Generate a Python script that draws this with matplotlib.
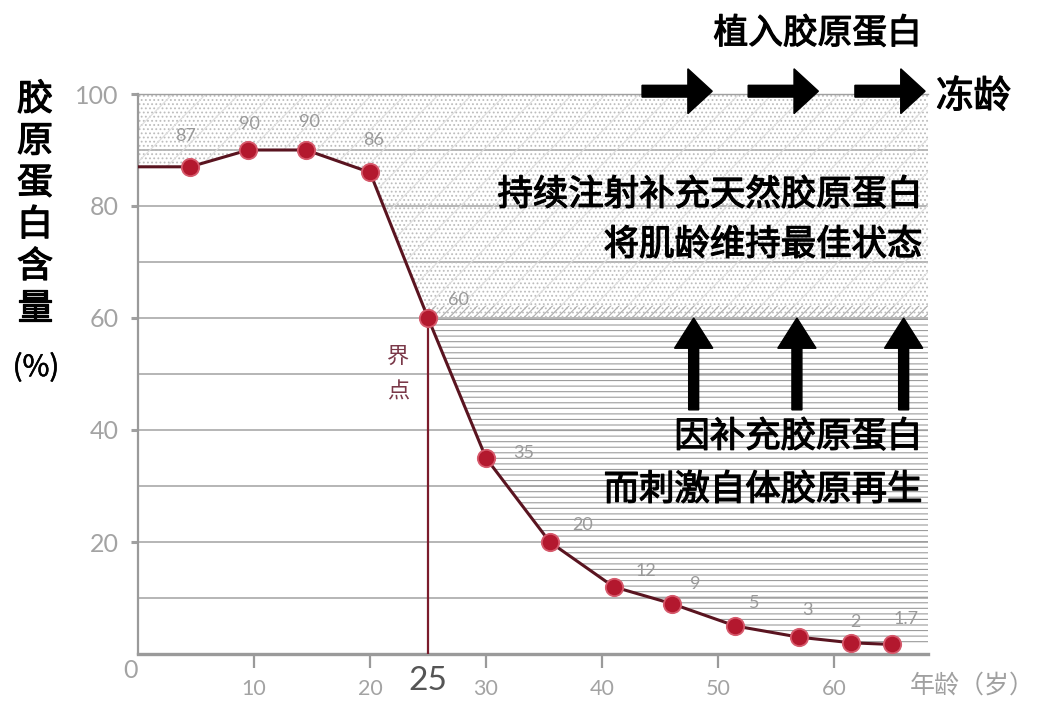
import numpy as np
import matplotlib
matplotlib.use("Agg")
import matplotlib.pyplot as plt
import matplotlib.patheffects as pe
from matplotlib.patches import FancyArrow

plt.rcParams["font.family"] = ["Noto Sans CJK SC", "DejaVu Sans"]
plt.rcParams["hatch.linewidth"] = 0.8

# collagen content (%) by age
ages = [4.5, 9.5, 14.5, 20, 25, 30, 35.5, 41, 46, 51.5, 57, 61.5, 65]
collagen = [87, 90, 90, 86, 60, 35, 20, 12, 9, 5, 3, 2, 1.7]
value_labels = ["87", "90", "90", "86", "60", "35", "20", "12", "9", "5", "3", "2", "1.7"]
start_age = 0
start_level = 87

x_ticks = [10, 20, 30, 40, 50, 60]
y_ticks = [20, 40, 60, 80, 100]
grid_levels = [10, 20, 30, 40, 50, 60, 70, 80, 90]
threshold_age = 25
threshold_level = 60

# arrow positions (age units / percent units)
right_arrow_starts = [43.45, 52.6, 61.8]
up_arrow_ages = [47.9, 56.8, 66.0]

W, H = 1038, 701
fig = plt.figure(figsize=(W / 100, H / 100), dpi=100)
ax = fig.add_axes([138 / W, 1 - 654 / H, 790 / W, 560 / H])
ax.set_xlim(0, 68.1)
ax.set_ylim(0, 100)

curve_x = [start_age] + ages
curve_y = [start_level] + collagen
xx = np.linspace(0, 68.1, 1200)
yy = np.interp(xx, curve_x, curve_y)

# grid lines
for g in grid_levels:
    ax.axhline(g, color="#b0b0b0", lw=1.3, zorder=0.5)

# stippled zone above the curve (maintenance zone)
ax.fill_between(xx, np.maximum(yy, threshold_level), 100, facecolor="none",
                edgecolor="#bdbdbd", hatch="....", linewidth=0, zorder=1)
ax.fill_between(xx, np.maximum(yy, threshold_level), 100, facecolor="none",
                edgecolor="#dedede", hatch="/", linewidth=0, zorder=1)
ax.fill_between(xx, threshold_level, threshold_level + 2.2,
                where=xx >= threshold_age, facecolor="none",
                edgecolor="#b0b0b0", hatch="////", linewidth=0, zorder=1)
# horizontal line zone between curve and the 60% level
ax.fill_between(xx, yy, threshold_level, where=xx >= threshold_age,
                facecolor="none", edgecolor="#9c9c9c", hatch="---",
                linewidth=0, zorder=1)

# threshold vertical line
ax.plot([threshold_age, threshold_age], [0, threshold_level],
        color="#7b1c2c", lw=1.6, zorder=3)

# curve and markers
ax.plot(curve_x, curve_y, color="#5a1420", lw=2.2, zorder=4)
ax.plot(ages, collagen, "o", ms=12.5, mfc="#b3182e", mec="#d65a6c", mew=1.3,
        zorder=5)

label_offsets = [(-5, 31), (1, 26), (3, 28), (4, 32), (30, 18), (38, 5),
                 (33, 17), (32, 16), (24, 20), (19, 23), (8, 27), (4, 21),
                 (14, 25)]
for a, v, t, (dx, dy) in zip(ages, collagen, value_labels, label_offsets):
    ax.annotate(t, (a, v), xytext=(dx, dy), textcoords="offset pixels",
                ha="center", va="center", fontsize=13, color="#9a9a9a",
                family=["Lato", "DejaVu Sans"], zorder=6)

# spines and ticks
ax.spines["right"].set_visible(False)
ax.spines["left"].set_color("#9a9a9a")
ax.spines["left"].set_linewidth(1.6)
ax.spines["bottom"].set_color("#9a9a9a")
ax.spines["bottom"].set_linewidth(2.4)
ax.spines["top"].set_color("#a0a0a0")
ax.spines["top"].set_linewidth(1.0)

ax.set_xticks(x_ticks)
ax.set_xticklabels([str(t) for t in x_ticks], family=["Lato", "DejaVu Sans"])
ax.set_yticks(y_ticks)
ax.set_yticklabels([str(t) for t in y_ticks], family=["Lato", "DejaVu Sans"])
ax.tick_params(axis="x", direction="out", length=10, width=1.6,
               color="#9a9a9a", pad=8, labelsize=15.5, labelcolor="#a3a3a3")
ax.tick_params(axis="y", direction="out", length=5, width=2.2,
               color="#a0a0a0", pad=9, labelsize=18, labelcolor="#a3a3a3")

# right arrows along the top
for x0 in right_arrow_starts:
    ax.add_patch(FancyArrow(x0, 100.5, 6.05, 0, width=2.1, head_width=8.0,
                            head_length=2.1, length_includes_head=True,
                            color="black", clip_on=False, zorder=7))
# up arrows to the 60% line
for x0 in up_arrow_ages:
    ax.add_patch(FancyArrow(x0, 43.6, 0, 16.4, width=0.86, head_width=3.3,
                            head_length=5.4, length_includes_head=True,
                            color="black", clip_on=False, zorder=7))


def ftext(px, py, s, **kw):
    fig.text(px / W, 1 - py / H, s, **kw)


# slightly heavier strokes for the black captions
heavy = [pe.withStroke(linewidth=0.9, foreground="black")]

# y-axis title
for i, ch in enumerate("胶原蛋白含量"):
    ftext(35, 100 + i * 41.8, ch, ha="center", va="center", fontsize=26,
          color="black", path_effects=heavy)
ftext(36, 368, "(%)", ha="center", va="center", fontsize=21, color="black",
      path_effects=[pe.withStroke(linewidth=0.4, foreground="black")])

ftext(130, 671, "0", ha="center", va="center", fontsize=18, color="#a3a3a3",
      family=["Lato", "DejaVu Sans"])
ftext(428, 681, "25", ha="center", va="center", fontsize=24, color="#555555",
      family=["Lato", "DejaVu Sans"])
ftext(972, 686, "年龄（岁）", ha="center", va="center", fontsize=18,
      color="#a0a0a0")

ftext(398, 356, "界", ha="center", va="center", fontsize=16, color="#7a3848")
ftext(398, 392, "点", ha="center", va="center", fontsize=16, color="#7a3848")

big = dict(va="center", color="black", path_effects=heavy)
ftext(922, 34, "植入胶原蛋白", ha="right", fontsize=25, **big)
ftext(936, 97, "冻龄", ha="left", fontsize=27, **big)
ftext(922, 195, "持续注射补充天然胶原蛋白", ha="right", fontsize=25.5, **big)
ftext(922, 245, "将肌龄维持最佳状态", ha="right", fontsize=25.5, **big)
ftext(922, 437, "因补充胶原蛋白", ha="right", fontsize=25.5, **big)
ftext(922, 490, "而刺激自体胶原再生", ha="right", fontsize=25.5, **big)

fig.savefig("out.png", dpi=100, facecolor="white")
